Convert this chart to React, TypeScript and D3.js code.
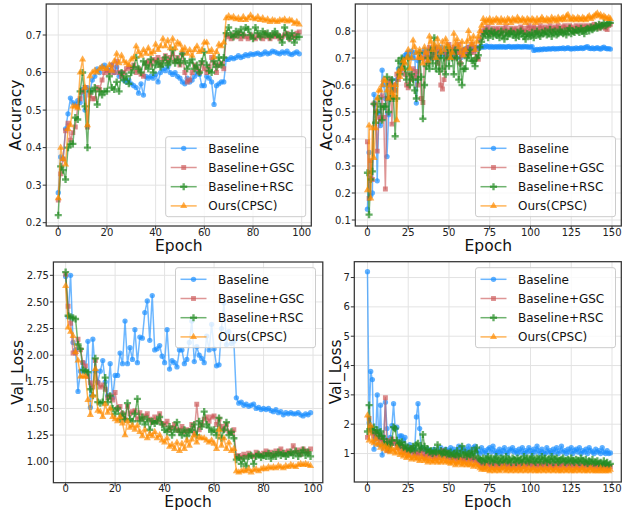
import React from "react";
import * as d3 from "d3";

const seriesNames = ["Baseline", "Baseline+GSC", "Baseline+RSC", "Ours(CPSC)"];
const seriesColors = ["#1E90FF", "#CD5C5C", "#228B22", "#FF8C00"];
const seriesSymbols = [d3.symbolCircle, d3.symbolSquare, d3.symbolCross, d3.symbolTriangle];
const symbolSizes = [22, 24, 28, 22];

const xTicks100 = [0, 20, 40, 60, 80, 100];
const xTicks150 = [0, 25, 50, 75, 100, 125, 150];
const yTicksAccA = [0.2, 0.3, 0.4, 0.5, 0.6, 0.7];
const yTicksAccB = [0.1, 0.2, 0.3, 0.4, 0.5, 0.6, 0.7, 0.8];
const yTicksLossA = [1.0, 1.25, 1.5, 1.75, 2.0, 2.25, 2.5, 2.75];
const yTicksLossB = [1, 2, 3, 4, 5, 6, 7];

// ---------- Top-left: Accuracy, 100 epochs ----------
const tlBaseline = [
  0.28, 0.375, 0.37, 0.45, 0.49, 0.532, 0.52, 0.515, 0.525, 0.52,
  0.555, 0.50, 0.56, 0.55, 0.58, 0.59, 0.61, 0.60, 0.615, 0.62,
  0.61, 0.605, 0.62, 0.60, 0.615, 0.59, 0.60, 0.58, 0.575, 0.58,
  0.57, 0.565, 0.56, 0.545, 0.57, 0.54, 0.59, 0.585, 0.59, 0.585,
  0.595, 0.575, 0.60, 0.61, 0.605, 0.615, 0.60, 0.595, 0.60, 0.59,
  0.585, 0.575, 0.57, 0.585, 0.575, 0.58, 0.59, 0.60, 0.595, 0.565,
  0.565, 0.59, 0.585, 0.575, 0.515, 0.565, 0.57, 0.575, 0.575, 0.635,
  0.635, 0.64, 0.637, 0.64, 0.645, 0.64, 0.643, 0.648, 0.645, 0.65,
  0.648, 0.65, 0.652, 0.648, 0.65, 0.655, 0.65, 0.652, 0.657, 0.655,
  0.652, 0.65, 0.655, 0.652, 0.657, 0.65, 0.648, 0.652, 0.655, 0.65,
];
const tlGSC = [
  0.26, 0.33, 0.37, 0.445, 0.465, 0.42, 0.44, 0.455, 0.51, 0.53,
  0.55, 0.56, 0.455, 0.54, 0.53, 0.53, 0.56, 0.555, 0.58, 0.60,
  0.605, 0.60, 0.62, 0.60, 0.63, 0.60, 0.59, 0.60, 0.61, 0.615,
  0.61, 0.62, 0.60, 0.61, 0.595, 0.59, 0.625, 0.63, 0.62, 0.635,
  0.63, 0.64, 0.62, 0.635, 0.645, 0.63, 0.64, 0.65, 0.63, 0.64,
  0.62, 0.65, 0.60, 0.575, 0.58, 0.60, 0.62, 0.61, 0.60, 0.625,
  0.61, 0.60, 0.615, 0.64, 0.625, 0.60, 0.62, 0.625, 0.61, 0.70,
  0.695, 0.69, 0.70, 0.695, 0.705, 0.69, 0.70, 0.695, 0.69, 0.70,
  0.695, 0.69, 0.70, 0.695, 0.69, 0.705, 0.695, 0.69, 0.70, 0.695,
  0.70, 0.69, 0.695, 0.70, 0.705, 0.69, 0.70, 0.695, 0.705, 0.708,
];
const tlRSC = [
  0.22, 0.35, 0.34, 0.315, 0.40, 0.41, 0.41, 0.48, 0.475, 0.55,
  0.60, 0.51, 0.40, 0.55, 0.55, 0.56, 0.515, 0.55, 0.54, 0.55,
  0.55, 0.59, 0.56, 0.555, 0.575, 0.55, 0.60, 0.58, 0.59, 0.57,
  0.60, 0.615, 0.64, 0.61, 0.60, 0.63, 0.62, 0.61, 0.635, 0.60,
  0.62, 0.63, 0.615, 0.625, 0.64, 0.62, 0.63, 0.66, 0.625, 0.635,
  0.625, 0.65, 0.63, 0.61, 0.625, 0.635, 0.61, 0.62, 0.60, 0.63,
  0.655, 0.62, 0.605, 0.60, 0.63, 0.615, 0.64, 0.62, 0.64, 0.705,
  0.72, 0.70, 0.695, 0.71, 0.70, 0.715, 0.70, 0.72, 0.715, 0.70,
  0.69, 0.72, 0.705, 0.695, 0.71, 0.70, 0.705, 0.695, 0.70, 0.71,
  0.70, 0.695, 0.68, 0.72, 0.70, 0.69, 0.705, 0.68, 0.695, 0.695,
];
const tlOurs = [
  0.265, 0.40, 0.37, 0.355, 0.45, 0.46, 0.51, 0.51, 0.505, 0.60,
  0.635, 0.56, 0.46, 0.59, 0.60, 0.605, 0.60, 0.61, 0.615, 0.61,
  0.61, 0.62, 0.605, 0.63, 0.65, 0.625, 0.645, 0.63, 0.625, 0.62,
  0.635, 0.64, 0.67, 0.655, 0.645, 0.66, 0.65, 0.665, 0.65, 0.655,
  0.675, 0.66, 0.67, 0.69, 0.67, 0.685, 0.665, 0.69, 0.665, 0.68,
  0.675, 0.66, 0.665, 0.65, 0.66, 0.645, 0.66, 0.67, 0.655, 0.66,
  0.68, 0.68, 0.655, 0.66, 0.64, 0.655, 0.675, 0.67, 0.68, 0.745,
  0.75, 0.745, 0.748, 0.742, 0.745, 0.74, 0.748, 0.74, 0.745, 0.752,
  0.745, 0.742, 0.748, 0.74, 0.745, 0.738, 0.742, 0.735, 0.74, 0.738,
  0.735, 0.74, 0.738, 0.742, 0.736, 0.74, 0.738, 0.73, 0.735, 0.728,
];

// ---------- Top-right: Accuracy, 150 epochs ----------
const trBaseline = [
  0.14, 0.35, 0.19, 0.20, 0.565, 0.53, 0.245, 0.50, 0.45, 0.655,
  0.60, 0.55, 0.335, 0.49, 0.61, 0.62, 0.58, 0.60, 0.62, 0.66,
  0.65, 0.68, 0.70, 0.71, 0.715, 0.72, 0.70, 0.725, 0.70, 0.72,
  0.533, 0.69, 0.72, 0.70, 0.72, 0.73, 0.71, 0.725, 0.70, 0.73,
  0.73, 0.72, 0.735, 0.70, 0.72, 0.74, 0.71, 0.73, 0.725, 0.715,
  0.735, 0.72, 0.73, 0.71, 0.735, 0.72, 0.73, 0.70, 0.725, 0.73,
  0.735, 0.72, 0.74, 0.73, 0.725, 0.735, 0.73, 0.74, 0.735, 0.74,
  0.74, 0.742, 0.74, 0.745, 0.742, 0.74, 0.743, 0.74, 0.741, 0.742,
  0.74, 0.743, 0.74, 0.742, 0.741, 0.74, 0.742, 0.743, 0.74, 0.741,
  0.742, 0.74, 0.743, 0.741, 0.742, 0.74, 0.743, 0.741, 0.742, 0.74,
  0.741, 0.742, 0.728, 0.73, 0.732, 0.73, 0.733, 0.731, 0.734, 0.733,
  0.732, 0.735, 0.733, 0.734, 0.736, 0.733, 0.735, 0.734, 0.736, 0.735,
  0.737, 0.734, 0.736, 0.738, 0.735, 0.733, 0.736, 0.734, 0.737, 0.735,
  0.736, 0.738, 0.735, 0.737, 0.74, 0.742, 0.736, 0.735, 0.737, 0.734,
  0.736, 0.738, 0.735, 0.733, 0.737, 0.74, 0.736, 0.734, 0.735, 0.733,
];
const trGSC = [
  0.39, 0.18, 0.32, 0.25, 0.53, 0.50, 0.355, 0.48, 0.47, 0.56,
  0.48, 0.215, 0.55, 0.60, 0.62, 0.455, 0.60, 0.58, 0.64, 0.62,
  0.65, 0.66, 0.69, 0.64, 0.60, 0.59, 0.64, 0.62, 0.66, 0.63,
  0.65, 0.60, 0.70, 0.55, 0.535, 0.70, 0.72, 0.68, 0.74, 0.70,
  0.72, 0.70, 0.74, 0.68, 0.73, 0.60, 0.585, 0.62, 0.72, 0.70,
  0.75, 0.73, 0.72, 0.74, 0.70, 0.72, 0.75, 0.68, 0.71, 0.73,
  0.73, 0.71, 0.74, 0.72, 0.75, 0.72, 0.74, 0.70, 0.695, 0.77,
  0.80, 0.79, 0.81, 0.80, 0.815, 0.79, 0.80, 0.81, 0.795, 0.805,
  0.81, 0.80, 0.79, 0.81, 0.80, 0.815, 0.80, 0.795, 0.81, 0.80,
  0.805, 0.81, 0.795, 0.80, 0.815, 0.81, 0.80, 0.795, 0.81, 0.82,
  0.80, 0.81, 0.815, 0.795, 0.81, 0.80, 0.82, 0.81, 0.80, 0.815,
  0.805, 0.81, 0.82, 0.80, 0.81, 0.815, 0.805, 0.82, 0.81, 0.80,
  0.815, 0.82, 0.81, 0.805, 0.82, 0.815, 0.81, 0.80, 0.82, 0.815,
  0.81, 0.82, 0.805, 0.815, 0.82, 0.81, 0.815, 0.82, 0.81, 0.825,
  0.815, 0.82, 0.81, 0.825, 0.82, 0.815, 0.81, 0.805, 0.82, 0.825,
];
const trRSC = [
  0.275, 0.12, 0.25, 0.28, 0.53, 0.46, 0.50, 0.55, 0.52, 0.47,
  0.52, 0.52, 0.63, 0.50, 0.55, 0.62, 0.55, 0.41, 0.55, 0.69,
  0.64, 0.70, 0.68, 0.66, 0.62, 0.70, 0.60, 0.64, 0.62, 0.58,
  0.55, 0.62, 0.72, 0.63, 0.475, 0.60, 0.67, 0.70, 0.66, 0.73,
  0.68, 0.775, 0.66, 0.70, 0.65, 0.72, 0.66, 0.70, 0.64, 0.74,
  0.67, 0.72, 0.70, 0.64, 0.73, 0.70, 0.62, 0.68, 0.60, 0.66,
  0.66, 0.70, 0.71, 0.73, 0.69, 0.69, 0.67, 0.70, 0.71, 0.74,
  0.76, 0.78, 0.79, 0.80, 0.775, 0.79, 0.80, 0.78, 0.795, 0.785,
  0.79, 0.775, 0.80, 0.785, 0.77, 0.795, 0.78, 0.79, 0.80, 0.785,
  0.79, 0.775, 0.795, 0.78, 0.80, 0.79, 0.78, 0.77, 0.79, 0.785,
  0.78, 0.795, 0.775, 0.79, 0.80, 0.785, 0.78, 0.795, 0.79, 0.80,
  0.785, 0.79, 0.805, 0.78, 0.795, 0.80, 0.785, 0.79, 0.805, 0.795,
  0.79, 0.80, 0.785, 0.80, 0.81, 0.79, 0.80, 0.795, 0.805, 0.80,
  0.795, 0.81, 0.80, 0.79, 0.805, 0.81, 0.80, 0.815, 0.805, 0.81,
  0.82, 0.81, 0.825, 0.815, 0.82, 0.83, 0.82, 0.825, 0.83, 0.83,
];
const trOurs = [
  0.21, 0.45, 0.18, 0.44, 0.33, 0.44, 0.55, 0.58, 0.58, 0.60,
  0.62, 0.615, 0.58, 0.55, 0.60, 0.57, 0.56, 0.60, 0.47, 0.65,
  0.63, 0.66, 0.69, 0.68, 0.70, 0.73, 0.66, 0.70, 0.765, 0.74,
  0.72, 0.70, 0.73, 0.70, 0.68, 0.74, 0.72, 0.69, 0.78, 0.76,
  0.73, 0.75, 0.70, 0.77, 0.74, 0.72, 0.76, 0.73, 0.77, 0.75,
  0.74, 0.70, 0.72, 0.79, 0.75, 0.77, 0.74, 0.72, 0.76, 0.71,
  0.73, 0.76, 0.80, 0.77, 0.75, 0.78, 0.73, 0.76, 0.78, 0.80,
  0.82, 0.845, 0.83, 0.84, 0.835, 0.845, 0.83, 0.84, 0.835, 0.845,
  0.84, 0.83, 0.845, 0.835, 0.84, 0.83, 0.845, 0.84, 0.83, 0.845,
  0.84, 0.835, 0.85, 0.84, 0.835, 0.845, 0.84, 0.83, 0.845, 0.84,
  0.835, 0.845, 0.84, 0.83, 0.845, 0.835, 0.84, 0.85, 0.84, 0.835,
  0.845, 0.84, 0.835, 0.85, 0.84, 0.845, 0.835, 0.85, 0.84, 0.845,
  0.85, 0.84, 0.855, 0.86, 0.845, 0.84, 0.85, 0.845, 0.84, 0.85,
  0.845, 0.84, 0.85, 0.845, 0.84, 0.85, 0.855, 0.845, 0.85, 0.855,
  0.86, 0.865, 0.855, 0.86, 0.85, 0.855, 0.85, 0.845, 0.85, 0.845,
];

// ---------- Bottom-left: Val_Loss, 100 epochs ----------
const blBaseline = [
  2.74, 2.36, 2.75, 2.12, 2.05, 1.66, 1.85, 1.93, 1.85, 2.13,
  1.51, 2.15, 1.85, 1.75, 1.85, 1.95, 1.75, 1.62, 1.92, 1.60,
  1.81, 1.81, 2.02, 1.92, 2.32, 1.92, 2.07, 1.96, 2.24, 1.93,
  2.17, 2.16, 2.40, 2.51, 2.14, 2.56, 2.05, 2.06, 2.09, 1.99,
  1.93, 2.24, 1.87, 1.95, 1.93, 1.89, 2.05, 2.05, 1.92, 1.96,
  2.12, 2.32, 1.94, 2.08, 2.00, 1.97, 1.93, 2.18, 2.05, 2.29,
  2.06, 1.90, 1.91, 2.25, 2.49, 2.10, 2.22, 2.11, 2.13, 1.60,
  1.55, 1.56, 1.53, 1.54, 1.52, 1.53, 1.54, 1.50, 1.51, 1.49,
  1.50, 1.49, 1.50, 1.48, 1.47, 1.49, 1.46, 1.47, 1.44, 1.46,
  1.45, 1.46, 1.45, 1.45, 1.46, 1.44, 1.43, 1.45, 1.44, 1.46,
];
const blGSC = [
  2.76, 2.46, 2.30, 2.02, 2.02, 2.15, 2.05, 1.93, 1.90, 1.80,
  1.74, 1.70, 1.95, 1.74, 1.70, 1.72, 1.68, 1.60, 1.62, 1.58,
  1.65, 1.50, 1.52, 1.45, 1.40, 1.52, 1.45, 1.47, 1.48, 1.40,
  1.46, 1.40, 1.43, 1.45, 1.40, 1.37, 1.42, 1.38, 1.45, 1.36,
  1.35, 1.38, 1.30, 1.32, 1.35, 1.30, 1.29, 1.33, 1.28, 1.30,
  1.29, 1.35, 1.27, 1.54, 1.30, 1.35, 1.40, 1.42, 1.38, 1.42,
  1.43, 1.35, 1.40, 1.33, 1.30, 1.35, 1.28, 1.27, 1.30, 1.05,
  1.06, 1.04, 1.07, 1.05, 1.08, 1.06, 1.05, 1.09, 1.07, 1.06,
  1.08, 1.10, 1.07, 1.09, 1.06, 1.10, 1.08, 1.12, 1.07, 1.09,
  1.10, 1.08, 1.15, 1.09, 1.11, 1.07, 1.12, 1.10, 1.09, 1.12,
];
const blRSC = [
  2.78, 2.37, 2.36, 2.35, 2.34, 2.10, 2.06, 1.86, 1.85, 1.84,
  1.68, 1.62, 1.97, 1.56, 1.55, 1.56, 1.79, 1.56, 1.62, 1.50,
  1.45, 1.50, 1.40, 1.45, 1.40, 1.55, 1.40, 1.38, 1.45, 1.59,
  1.38, 1.42, 1.35, 1.40, 1.30, 1.38, 1.36, 1.38, 1.42, 1.35,
  1.30, 1.28, 1.33, 1.25, 1.30, 1.37, 1.28, 1.25, 1.30, 1.24,
  1.28, 1.30, 1.35, 1.25, 1.38, 1.33, 1.47, 1.35, 1.32, 1.28,
  1.30, 1.25, 1.41, 1.22, 1.30, 1.37, 1.25, 1.28, 1.22, 1.02,
  1.04, 0.98, 1.03, 0.96, 1.05, 1.06, 0.98, 1.05, 1.07, 1.04,
  1.06, 1.05, 1.08, 1.03, 1.07, 1.05, 1.09, 1.06, 1.08, 1.05,
  1.07, 1.09, 1.06, 1.10, 1.05, 1.08, 1.11, 1.06, 1.09, 1.05,
];
const blOurs = [
  2.65, 2.26, 2.22, 2.18, 2.03, 1.95, 1.80, 1.80, 1.80, 1.58,
  1.44, 1.62, 1.87, 1.48, 1.47, 1.42, 1.54, 1.46, 1.50, 1.42,
  1.40, 1.38, 1.42, 1.36, 1.25, 1.38, 1.32, 1.34, 1.30, 1.34,
  1.28, 1.24, 1.30, 1.22, 1.26, 1.24, 1.28, 1.22, 1.25, 1.20,
  1.18, 1.22, 1.14, 1.16, 1.12, 1.18, 1.10, 1.17, 1.12, 1.20,
  1.15, 1.21, 1.25, 1.18, 1.23, 1.22, 1.22, 1.20, 1.18, 1.20,
  1.17, 1.12, 1.30, 1.15, 1.22, 1.12, 1.18, 1.10, 1.12, 0.91,
  0.90, 0.91, 0.92, 0.91, 0.93, 0.90, 0.92, 0.93, 0.91, 0.93,
  0.94, 0.93, 0.95, 0.94, 0.95, 0.94, 0.96, 0.95, 0.94, 0.96,
  0.95, 0.97, 0.96, 0.95, 0.97, 0.98, 0.97, 0.98, 0.97, 0.96,
];

// ---------- Bottom-right: Val_Loss, 150 epochs ----------
const brBaseline = [
  7.2, 2.05, 3.8, 3.52, 1.15, 1.5, 3.0, 1.3, 2.65, 0.95,
  1.55, 2.75, 1.85, 1.1, 1.55, 1.95, 2.7, 1.85, 1.9, 1.3,
  1.6, 1.6, 1.45, 1.55, 1.1, 1.15, 1.3, 1.1, 1.2, 1.15,
  2.25, 2.7, 1.85, 1.15, 1.2, 1.1, 1.05, 1.15, 1.0, 1.1,
  1.05, 1.15, 1.0, 1.1, 1.05, 1.2, 1.1, 1.0, 1.15, 1.05,
  1.1, 1.2, 1.05, 1.15, 1.0, 1.1, 1.25, 1.05, 1.2, 1.1,
  1.15, 1.05, 1.25, 1.1, 1.0, 1.2, 1.25, 1.05, 1.1, 1.0,
  1.2, 1.05, 1.1, 1.0, 1.15, 1.2, 1.05, 1.25, 1.1, 1.0,
  1.05, 1.15, 1.0, 1.1, 1.2, 1.05, 1.0, 1.15, 1.1, 1.2,
  1.05, 1.1, 1.0, 1.15, 1.05, 1.2, 1.0, 1.1, 1.05, 1.2,
  1.1, 1.0, 1.15, 1.05, 1.25, 1.1, 1.0, 1.15, 1.05, 1.0,
  1.2, 1.05, 1.1, 1.0, 1.15, 1.05, 1.2, 1.0, 1.1, 1.25,
  1.05, 1.1, 1.0, 1.15, 1.05, 1.2, 1.0, 1.1, 1.15, 1.05,
  1.2, 1.0, 1.1, 1.05, 1.15, 1.0, 1.2, 1.1, 1.05, 1.0,
  1.15, 1.05, 1.1, 1.0, 1.2, 1.05, 1.0, 1.1, 1.0, 1.02,
];
const brGSC = [
  1.55, 2.2, 1.9, 1.7, 1.6, 1.75, 1.5, 1.6, 1.45, 1.5,
  1.4, 2.9, 1.1, 1.45, 1.3, 1.5, 1.35, 1.4, 1.2, 1.3,
  1.15, 1.25, 1.05, 1.2, 1.1, 0.95, 1.1, 1.2, 1.0, 0.95,
  1.05, 0.95, 1.0, 1.1, 0.9, 1.0, 0.85, 0.95, 1.0, 0.9,
  0.95, 0.85, 0.9, 1.0, 0.85, 0.95, 1.1, 0.9, 1.05, 0.85,
  0.95, 0.85, 0.8, 0.9, 0.85, 0.75, 0.9, 0.8, 0.85, 0.75,
  0.8, 0.9, 0.75, 0.85, 0.8, 0.75, 0.85, 0.7, 0.75, 0.65,
  0.6, 0.65, 0.55, 0.7, 0.6, 0.65, 0.55, 0.6, 0.7, 0.55,
  0.6, 0.65, 0.55, 0.6, 0.7, 0.55, 0.6, 0.65, 0.55, 0.6,
  0.55, 0.65, 0.6, 0.55, 0.6, 0.7, 0.55, 0.6, 0.65, 0.6,
  0.7, 0.55, 0.6, 0.65, 0.55, 0.6, 0.65, 0.55, 0.6, 0.7,
  0.55, 0.6, 0.65, 0.55, 0.6, 0.55, 0.65, 0.6, 0.55, 0.65,
  0.6, 0.55, 0.65, 0.6, 0.55, 0.6, 0.7, 0.55, 0.6, 0.55,
  0.65, 0.55, 0.6, 0.55, 0.65, 0.6, 0.55, 0.6, 0.55, 0.65,
  0.55, 0.6, 0.55, 0.5, 0.6, 0.55, 0.6, 0.55, 0.5, 0.55,
];
const brRSC = [
  1.75, 2.65, 1.85, 1.8, 1.9, 1.7, 1.8, 1.6, 1.75, 1.6,
  1.5, 1.3, 1.4, 1.2, 1.3, 1.45, 1.9, 1.85, 1.45, 1.3,
  1.35, 1.4, 1.2, 1.3, 1.15, 1.2, 1.1, 1.15, 1.25, 1.1,
  1.3, 1.35, 1.15, 1.2, 1.65, 1.25, 1.1, 1.15, 1.05, 1.1,
  1.0, 1.1, 1.05, 1.3, 1.0, 1.1, 0.95, 1.05, 1.1, 0.95,
  1.0, 1.05, 0.9, 1.0, 0.95, 1.1, 0.9, 1.0, 1.25, 0.95,
  1.05, 0.9, 1.0, 0.95, 1.1, 0.9, 1.05, 1.2, 0.85, 0.8,
  0.75, 0.85, 0.7, 0.8, 0.9, 0.75, 0.85, 0.7, 0.8, 0.9,
  0.75, 0.7, 0.85, 0.8, 0.7, 0.9, 0.75, 0.8, 0.7, 0.85,
  0.8, 0.7, 0.85, 0.75, 0.8, 0.7, 0.9, 0.75, 0.85, 0.7,
  0.8, 0.9, 0.75, 0.7, 0.85, 0.8, 0.7, 0.9, 0.75, 0.85,
  0.7, 0.8, 0.75, 0.9, 0.7, 0.8, 0.85, 0.7, 0.75, 0.8,
  0.85, 0.7, 0.75, 0.8, 0.7, 0.85, 0.75, 0.7, 0.8, 0.75,
  0.7, 0.85, 0.75, 0.7, 0.8, 0.65, 0.75, 0.7, 0.8, 0.65,
  0.7, 0.75, 0.65, 0.7, 0.6, 0.75, 0.65, 0.7, 0.6, 0.65,
];
const brOurs = [
  2.3, 1.45, 1.95, 1.4, 1.35, 1.5, 1.3, 1.35, 1.2, 1.3,
  1.15, 1.25, 1.1, 1.2, 1.05, 1.15, 1.1, 1.0, 1.2, 1.05,
  0.95, 1.05, 0.9, 1.0, 0.85, 0.95, 0.9, 0.8, 0.85, 0.9,
  0.8, 0.85, 0.75, 0.9, 0.8, 0.75, 0.85, 0.7, 0.8, 0.75,
  0.7, 0.8, 0.75, 0.7, 0.85, 0.7, 0.75, 0.8, 0.7, 0.75,
  0.7, 0.65, 0.75, 0.7, 0.6, 0.7, 0.65, 0.75, 0.6, 0.7,
  0.65, 0.6, 0.7, 0.6, 0.65, 0.55, 0.65, 0.6, 0.55, 0.5,
  0.45, 0.5, 0.45, 0.55, 0.45, 0.4, 0.5, 0.45, 0.4, 0.5,
  0.45, 0.4, 0.5, 0.45, 0.55, 0.4, 0.45, 0.5, 0.4, 0.45,
  0.5, 0.4, 0.45, 0.5, 0.4, 0.45, 0.55, 0.4, 0.45, 0.5,
  0.4, 0.45, 0.5, 0.4, 0.45, 0.4, 0.5, 0.45, 0.4, 0.5,
  0.45, 0.4, 0.5, 0.45, 0.4, 0.45, 0.5, 0.4, 0.45, 0.4,
  0.5, 0.45, 0.4, 0.45, 0.5, 0.4, 0.45, 0.4, 0.5, 0.45,
  0.4, 0.45, 0.5, 0.4, 0.45, 0.4, 0.45, 0.5, 0.4, 0.45,
  0.4, 0.45, 0.4, 0.5, 0.4, 0.45, 0.4, 0.45, 0.4, 0.45,
];

const FONT = "DejaVu Sans, Verdana, sans-serif";

type PanelCfg = {
  id: string;
  left: number; right: number; top: number; bottom: number;
  xDomain: [number, number]; yDomain: [number, number];
  xTicks: number[]; yTicks: number[]; yFmt: (v: number) => string;
  ylabel: string; ylabelX: number;
  series: number[][];
  legendX: number; legendY: number;
};

const panels: PanelCfg[] = [
  {
    id: "tl", left: 46.2, right: 311.3, top: 4, bottom: 226,
    xDomain: [-4.95, 103.95], yDomain: [0.1912, 0.7826],
    xTicks: xTicks100, yTicks: yTicksAccA, yFmt: d3.format(".1f"),
    ylabel: "Accuracy", ylabelX: 21,
    series: [tlBaseline, tlGSC, tlRSC, tlOurs],
    legendX: 165.7, legendY: 136.7,
  },
  {
    id: "tr", left: 355.3, right: 621.3, top: 4, bottom: 226,
    xDomain: [-7.45, 155.7], yDomain: [0.0778, 0.9],
    xTicks: xTicks150, yTicks: yTicksAccB, yFmt: d3.format(".1f"),
    ylabel: "Accuracy", ylabelX: 331.5,
    series: [trBaseline, trGSC, trRSC, trOurs],
    legendX: 475.5, legendY: 136.7,
  },
  {
    id: "bl", left: 53.4, right: 322.8, top: 262, bottom: 482.7,
    xDomain: [-4.95, 103.95], yDomain: [0.803, 2.875],
    xTicks: xTicks100, yTicks: yTicksLossA, yFmt: d3.format(".2f"),
    ylabel: "Val_Loss", ylabelX: 23,
    series: [blBaseline, blGSC, blRSC, blOurs],
    legendX: 175.5, legendY: 267.7,
  },
  {
    id: "br", left: 354.3, right: 621.3, top: 261.7, bottom: 482,
    xDomain: [-8.08, 155.7], yDomain: [0.03, 7.54],
    xTicks: xTicks150, yTicks: yTicksLossB, yFmt: d3.format("d"),
    ylabel: "Val_Loss", ylabelX: 341,
    series: [brBaseline, brGSC, brRSC, brOurs],
    legendX: 475.5, legendY: 267.7,
  },
];

function symbolPath(i: number) {
  return d3.symbol().type(seriesSymbols[i]).size(symbolSizes[i])() || "";
}

function Panel({ cfg }: { cfg: PanelCfg }) {
  const { left, right, top, bottom } = cfg;
  const x = d3.scaleLinear().domain(cfg.xDomain).range([left, right]);
  const y = d3.scaleLinear().domain(cfg.yDomain).range([bottom, top]);
  const line = d3.line<number>().x((_, i) => x(i)).y((d) => y(d));
  const clipId = `clip-${cfg.id}`;
  const cx = (left + right) / 2;
  const cy = (top + bottom) / 2;
  return (
    <g fontFamily={FONT}>
      <defs>
        <clipPath id={clipId}>
          <rect x={left} y={top} width={right - left} height={bottom - top} />
        </clipPath>
      </defs>
      <rect x={left} y={top} width={right - left} height={bottom - top} fill="#ffffff" />
      {cfg.xTicks.map((t) => (
        <line key={`gx${t}`} x1={x(t)} x2={x(t)} y1={top} y2={bottom} stroke="#e3e3e3" strokeWidth={1} />
      ))}
      {cfg.yTicks.map((t) => (
        <line key={`gy${t}`} x1={left} x2={right} y1={y(t)} y2={y(t)} stroke="#e3e3e3" strokeWidth={1} />
      ))}
      <g clipPath={`url(#${clipId})`}>
        {cfg.series.map((s, si) => (
          <g key={si}>
            <path d={line(s) || ""} fill="none" stroke={seriesColors[si]} strokeWidth={1.5} strokeOpacity={0.65} strokeLinejoin="round" />
            {s.map((v, i) => (
              <path key={i} d={symbolPath(si)} transform={`translate(${x(i)},${y(v)})`} fill={seriesColors[si]} fillOpacity={0.7} />
            ))}
          </g>
        ))}
      </g>
      <rect x={left} y={top} width={right - left} height={bottom - top} fill="none" stroke="#333333" strokeWidth={1.25} />
      {cfg.xTicks.map((t) => (
        <g key={`tx${t}`}>
          <line x1={x(t)} x2={x(t)} y1={bottom} y2={bottom + 3.5} stroke="#333333" strokeWidth={1} />
          <text x={x(t)} y={bottom + 9.6} fontSize={10} textAnchor="middle" fill="#222">{t}</text>
        </g>
      ))}
      {cfg.yTicks.map((t) => (
        <g key={`ty${t}`}>
          <line x1={left - 3.5} x2={left} y1={y(t)} y2={y(t)} stroke="#333333" strokeWidth={1} />
          <text x={left - 4.5} y={y(t) + 3.6} fontSize={10} textAnchor="end" fill="#222">{cfg.yFmt(t)}</text>
        </g>
      ))}
      <text x={cx} y={bottom + 24.5} fontSize={15.5} textAnchor="middle" fill="#111">Epoch</text>
      <text transform={`translate(${cfg.ylabelX},${cy}) rotate(-90)`} fontSize={15.5} textAnchor="middle" fill="#111">{cfg.ylabel}</text>
      <g transform={`translate(${cfg.legendX},${cfg.legendY})`}>
        <rect x={0} y={0} width={140} height={80} rx={2.5} fill="#ffffff" fillOpacity={0.8} stroke="#cccccc" strokeWidth={1} />
        {seriesNames.map((name, i) => {
          const ey = 11.6 + i * 19.2;
          return (
            <g key={name}>
              <line x1={5} x2={31} y1={ey} y2={ey} stroke={seriesColors[i]} strokeWidth={1.5} strokeOpacity={0.65} />
              <path d={symbolPath(i)} transform={`translate(18,${ey})`} fill={seriesColors[i]} fillOpacity={0.7} />
              <text x={42.5} y={ey + 4.3} fontSize={12} fill="#111">{name}</text>
            </g>
          );
        })}
      </g>
    </g>
  );
}

export default function App() {
  return (
    <svg width={622} height={512} viewBox="0 0 622 512" style={{ position: "absolute", left: 0, top: 0, background: "#ffffff" }}>
      <rect x={0} y={0} width={622} height={512} fill="#ffffff" />
      {panels.map((p) => (
        <Panel key={p.id} cfg={p} />
      ))}
    </svg>
  );
}
